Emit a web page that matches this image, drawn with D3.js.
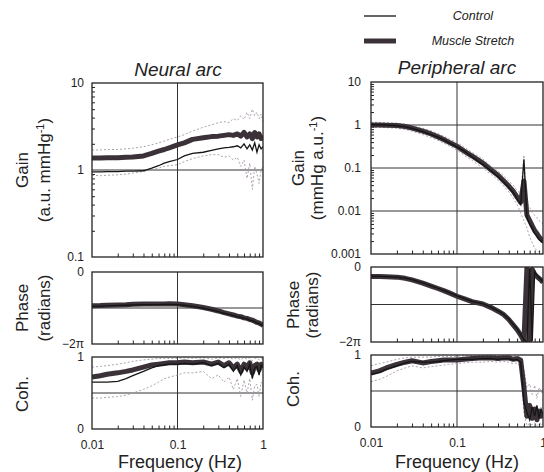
<!DOCTYPE html>
<html>
<head>
<meta charset="utf-8">
<title>Neural and peripheral arc transfer functions</title>
<script src="https://d3js.org/d3.v7.min.js"></script>
<style>
  body { margin: 0; background: #fff; }
  text { font-family: "Liberation Sans", Arial, sans-serif; fill: #222; }
  .frame { fill: none; stroke: #222; stroke-width: 1.3px; }
  .grid { stroke: #333; stroke-width: 1px; }
  .stretch { fill: none; stroke: #3a3238; stroke-width: 5px; stroke-linejoin: round; }
  .control { fill: none; stroke: #151515; stroke-width: 1.3px; }
  .sd { fill: none; stroke: #a596a6; stroke-width: 0.9px; stroke-dasharray: 2,2; }
  .minor line { stroke: #222; stroke-width: 1px; }
  .ticklab text { font-size: 12px; }
  .title { font-size: 19px; font-style: italic; }
  .ylab { font-size: 17px; }
  .xlab { font-size: 18px; }
  .legend { font-size: 12.5px; font-style: italic; }
</style>
</head>
<body>
<script>
// frequency grid (Hz)
var freq = [0.01, 0.0125, 0.015, 0.02, 0.025, 0.03, 0.04, 0.05, 0.06, 0.07, 0.08, 0.1, 0.12, 0.15, 0.2, 0.25,
            0.3, 0.35, 0.4, 0.45, 0.5, 0.55, 0.6, 0.65, 0.7, 0.75, 0.8, 0.85, 0.9, 0.95, 1.0];

// Neural arc - gain (a.u. mmHg^-1)
var neuralGainStretch = [1.37,1.37,1.38,1.38,1.40,1.41,1.45,1.55,1.65,1.72,1.80,1.94,2.05,2.25,2.35,2.42,
                         2.45,2.5,2.55,2.5,2.6,2.45,2.7,2.4,2.6,2.3,2.7,2.4,2.6,2.3,2.5];
var neuralGainControl = [0.95,0.95,0.96,0.96,0.97,0.97,0.98,1.05,1.12,1.2,1.25,1.32,1.45,1.55,1.6,1.68,
                         1.75,1.8,1.82,1.85,1.9,1.8,2.0,1.75,1.95,1.7,2.05,1.6,1.95,1.75,1.85];
var neuralGainSdHi = [1.7,1.7,1.72,1.72,1.75,1.78,1.85,1.95,2.05,2.15,2.25,2.4,2.55,2.8,3.1,3.3,
                      3.5,3.6,3.5,3.9,3.7,4.2,3.8,4.6,3.9,5.0,4.2,4.6,3.9,4.4,3.6];
var neuralGainSdLo = [0.87,0.86,0.87,0.88,0.9,0.92,0.96,1.0,1.05,1.1,1.12,1.15,1.25,1.35,1.45,1.5,
                      1.5,1.4,1.45,1.3,1.4,1.1,1.3,0.8,1.2,0.6,1.1,0.9,0.7,1.0,1.1];

// Neural arc - phase (radians)
var neuralPhaseStretch = [-2.95,-2.93,-2.9,-2.87,-2.85,-2.82,-2.8,-2.8,-2.8,-2.8,-2.78,-2.8,-2.85,-2.95,-3.1,-3.25,
                          -3.4,-3.55,-3.65,-3.75,-3.85,-3.9,-4.0,-4.05,-4.15,-4.2,-4.3,-4.4,-4.45,-4.55,-4.65];
var neuralPhaseControl = [-3.0,-2.98,-2.95,-2.92,-2.9,-2.88,-2.86,-2.85,-2.84,-2.83,-2.83,-2.85,-2.9,-3.0,-3.15,-3.3,
                          -3.45,-3.6,-3.7,-3.8,-3.9,-3.95,-4.05,-4.1,-4.2,-4.25,-4.35,-4.45,-4.5,-4.6,-4.7];

// Neural arc - coherence
var neuralCohStretch = [0.72,0.74,0.76,0.78,0.8,0.82,0.86,0.89,0.9,0.91,0.92,0.92,0.93,0.92,0.93,0.9,
                        0.93,0.88,0.92,0.85,0.9,0.8,0.9,0.85,0.92,0.78,0.88,0.9,0.82,0.9,0.88];
var neuralCohControl = [0.65,0.65,0.65,0.66,0.7,0.74,0.8,0.85,0.88,0.89,0.9,0.9,0.91,0.9,0.92,0.88,
                        0.91,0.85,0.9,0.8,0.88,0.75,0.86,0.8,0.9,0.7,0.85,0.87,0.75,0.88,0.85];
var neuralCohSdHi = [0.86,0.87,0.88,0.9,0.92,0.94,0.96,0.97,0.98,0.98,0.98,0.98,0.99,0.98,0.99,0.97,
                     0.99,0.98,0.99,0.97,0.99,0.96,0.99,0.97,0.99,0.95,0.98,0.99,0.96,0.98,0.97];
var neuralCohSdLo = [0.43,0.43,0.44,0.45,0.47,0.5,0.55,0.6,0.65,0.7,0.72,0.75,0.78,0.78,0.8,0.7,
                     0.75,0.65,0.72,0.55,0.7,0.45,0.68,0.5,0.7,0.4,0.6,0.62,0.45,0.65,0.6];

// Peripheral arc - gain (mmHg a.u.^-1)
var periphGainStretch = [1.0,1.0,0.99,0.97,0.92,0.85,0.72,0.62,0.53,0.46,0.4,0.32,0.25,0.19,0.13,0.09,
                         0.068,0.05,0.038,0.029,0.021,0.016,0.05,0.008,0.006,0.0045,0.0035,0.003,0.0025,0.0022,0.002];
var periphGainControl = [1.02,1.01,1.0,0.96,0.9,0.83,0.7,0.6,0.52,0.45,0.39,0.31,0.25,0.18,0.12,0.085,
                         0.063,0.047,0.035,0.027,0.019,0.014,0.16,0.007,0.005,0.004,0.003,0.0026,0.0022,0.002,0.0018];
var periphGainSdHi = [1.15,1.15,1.13,1.1,1.05,0.98,0.84,0.73,0.63,0.55,0.48,0.39,0.31,0.23,0.16,0.11,
                      0.085,0.065,0.05,0.04,0.03,0.025,0.2,0.015,0.012,0.009,0.008,0.007,0.006,0.0055,0.005];
var periphGainSdLo = [0.88,0.88,0.87,0.84,0.79,0.72,0.6,0.51,0.44,0.38,0.33,0.26,0.2,0.15,0.1,0.07,
                      0.052,0.038,0.028,0.02,0.014,0.009,0.006,0.004,0.0025,0.0018,0.0014,0.0012,0.0011,0.001,0.001];

// Peripheral arc - phase (radians), wraps at -2pi
var periphPhaseStretch = [-0.8,-0.8,-0.81,-0.85,-0.95,-1.08,-1.35,-1.6,-1.8,-1.98,-2.15,-2.45,-2.65,-2.9,-3.1,-3.4,
                          -3.7,-4.0,-4.4,-4.85,-5.25,-5.7,-6.2,-0.05,-6.25,-0.2,-0.6,-0.8,-0.95,-1.1,-1.3];
var periphPhaseControl = [-0.78,-0.79,-0.8,-0.84,-0.93,-1.05,-1.32,-1.58,-1.78,-1.96,-2.12,-2.42,-2.62,-2.88,-3.08,-3.38,
                          -3.68,-3.98,-4.35,-4.8,-5.2,-5.65,-6.1,-6.28,-0.1,-6.2,-0.4,-0.7,-0.9,-1.05,-1.25];

// Peripheral arc - coherence
var periphCohStretch = [0.75,0.78,0.82,0.87,0.9,0.92,0.89,0.91,0.92,0.93,0.93,0.93,0.94,0.95,0.96,0.96,
                        0.95,0.96,0.96,0.94,0.95,0.93,0.55,0.15,0.3,0.12,0.25,0.1,0.22,0.15,0.2];
var periphCohControl = [0.73,0.76,0.8,0.85,0.89,0.91,0.9,0.9,0.91,0.92,0.93,0.94,0.94,0.94,0.95,0.95,
                        0.94,0.95,0.95,0.93,0.94,0.9,0.35,0.2,0.1,0.28,0.15,0.3,0.12,0.25,0.18];
var periphCohSdHi = [0.85,0.88,0.9,0.94,0.96,0.97,0.97,0.97,0.98,0.98,0.98,0.98,0.99,0.99,0.99,0.99,
                     0.99,0.99,0.99,0.98,0.98,0.97,0.8,0.55,0.6,0.45,0.58,0.4,0.55,0.5,0.45];
var periphCohSdLo = [0.63,0.66,0.7,0.78,0.82,0.85,0.82,0.84,0.85,0.86,0.87,0.88,0.89,0.9,0.9,0.91,
                     0.9,0.91,0.9,0.88,0.89,0.84,0.2,0.02,0.05,0.03,0.06,0.02,0.05,0.04,0.03];

// tick labels
var freqTicks = [0.01, 0.1, 1];
var freqTickText = ["0.01", "0.1", "1"];
var neuralGainTicks = [0.1, 1, 10];
var neuralGainTickText = ["0.1", "1", "10"];
var periphGainTicks = [0.001, 0.01, 0.1, 1, 10];
var periphGainTickText = ["0.001", "0.01", "0.1", "1", "10"];
var phaseTicks = [-2 * Math.PI, 0];
var phaseTickText = ["\u22122\u03c0", "0"];
var cohTicks = [0, 1];
var cohTickText = ["0", "1"];

var width = 544, height = 472;
var svg = d3.select("body").append("svg")
    .attr("width", width)
    .attr("height", height);

var clipId = 0;

function drawPanel(p) {
    var x = d3.scaleLog().domain([0.01, 1]).range([p.x0, p.x1]);
    var y = (p.log ? d3.scaleLog() : d3.scaleLinear()).domain(p.domain).range([p.bottom, p.top]);
    var g = svg.append("g");

    clipId++;
    g.append("clipPath").attr("id", "clip" + clipId)
        .append("rect")
        .attr("x", p.x0).attr("y", p.top)
        .attr("width", p.x1 - p.x0).attr("height", p.bottom - p.top);

    // grid lines
    g.append("line").attr("class", "grid")
        .attr("x1", x(0.1)).attr("x2", x(0.1))
        .attr("y1", p.top).attr("y2", p.bottom);
    p.grid.forEach(function (v) {
        g.append("line").attr("class", "grid")
            .attr("x1", p.x0).attr("x2", p.x1)
            .attr("y1", y(v)).attr("y2", y(v));
    });

    // minor ticks on the frequency axis (inside)
    var minorX = x.ticks().filter(function (d) { return Math.abs(Math.log10(d) % 1) > 1e-6; });
    g.append("g").attr("class", "minor")
        .attr("transform", "translate(0," + p.bottom + ")")
        .call(d3.axisBottom(x).tickValues(minorX).tickSizeInner(-3.5).tickSizeOuter(0).tickFormat(""))
        .call(function (a) { a.select(".domain").remove(); });

    if (p.log) {
        var minorY = y.ticks().filter(function (d) { return Math.abs(Math.log10(d) % 1) > 1e-6; });
        g.append("g").attr("class", "minor")
            .attr("transform", "translate(" + p.x0 + ",0)")
            .call(d3.axisLeft(y).tickValues(minorY).tickSizeInner(-3).tickSizeOuter(0).tickFormat(""))
            .call(function (a) { a.select(".domain").remove(); });
    }

    var line = d3.line()
        .x(function (d) { return x(d[0]); })
        .y(function (d) { return y(d[1]); });

    var data = g.append("g").attr("clip-path", "url(#clip" + clipId + ")");
    (p.sd || []).forEach(function (s) {
        data.append("path").datum(d3.zip(freq, s)).attr("class", "sd").attr("d", line);
    });
    data.append("path").datum(d3.zip(freq, p.stretch)).attr("class", "stretch").attr("d", line);
    data.append("path").datum(d3.zip(freq, p.control)).attr("class", "control").attr("d", line);

    // frame
    g.append("rect").attr("class", "frame")
        .attr("x", p.x0).attr("y", p.top)
        .attr("width", p.x1 - p.x0).attr("height", p.bottom - p.top);

    // y tick labels
    g.append("g").attr("class", "ticklab")
        .attr("transform", "translate(" + p.x0 + ",0)")
        .call(d3.axisLeft(y).tickValues(p.ticks).tickSize(0).tickPadding(p.pad)
            .tickFormat(function (d, i) { return p.tickText[i]; }))
        .call(function (a) { a.select(".domain").remove(); });

    // x tick labels
    if (p.xlabels) {
        g.append("g").attr("class", "ticklab")
            .attr("transform", "translate(0," + p.bottom + ")")
            .call(d3.axisBottom(x).tickValues(freqTicks).tickSize(0).tickPadding(11)
                .tickFormat(function (d, i) { return freqTickText[i]; }))
            .call(function (a) { a.select(".domain").remove(); });
    }
}

function yLabel(cy, lines) {
    lines.forEach(function (l) {
        var t = svg.append("text").attr("class", "ylab")
            .attr("text-anchor", "middle")
            .attr("transform", "translate(" + l.x + "," + cy + ") rotate(-90)");
        t.append("tspan").text(l.text);
        if (l.sup) {
            t.append("tspan").attr("baseline-shift", "super").style("font-size", "11px").text(l.sup);
            t.append("tspan").text(")");
        }
    });
}

var L = { x0: 92, x1: 263 }, R = { x0: 371, x1: 543 };

// Neural arc
drawPanel({ x0: L.x0, x1: L.x1, top: 83, bottom: 257, log: true, domain: [0.1, 10], grid: [1],
    stretch: neuralGainStretch, control: neuralGainControl, sd: [neuralGainSdHi, neuralGainSdLo],
    ticks: neuralGainTicks, tickText: neuralGainTickText, pad: 8 });
drawPanel({ x0: L.x0, x1: L.x1, top: 272, bottom: 344, log: false, domain: [-2 * Math.PI, 0], grid: [-Math.PI],
    stretch: neuralPhaseStretch, control: neuralPhaseControl,
    ticks: phaseTicks, tickText: phaseTickText, pad: 8 });
drawPanel({ x0: L.x0, x1: L.x1, top: 357, bottom: 429, log: false, domain: [0, 1], grid: [0.5],
    stretch: neuralCohStretch, control: neuralCohControl, sd: [neuralCohSdHi, neuralCohSdLo],
    ticks: cohTicks, tickText: cohTickText, pad: 8, xlabels: true });

// Peripheral arc
drawPanel({ x0: R.x0, x1: R.x1, top: 82, bottom: 254, log: true, domain: [0.001, 10], grid: [1, 0.1, 0.01],
    stretch: periphGainStretch, control: periphGainControl, sd: [periphGainSdHi, periphGainSdLo],
    ticks: periphGainTicks, tickText: periphGainTickText, pad: 10 });
drawPanel({ x0: R.x0, x1: R.x1, top: 267, bottom: 342, log: false, domain: [-2 * Math.PI, 0], grid: [-Math.PI],
    stretch: periphPhaseStretch, control: periphPhaseControl,
    ticks: phaseTicks, tickText: phaseTickText, pad: 10 });
drawPanel({ x0: R.x0, x1: R.x1, top: 355, bottom: 427, log: false, domain: [0, 1], grid: [0.5],
    stretch: periphCohStretch, control: periphCohControl, sd: [periphCohSdHi, periphCohSdLo],
    ticks: cohTicks, tickText: cohTickText, pad: 10, xlabels: true });

// titles
svg.append("text").attr("class", "title").attr("text-anchor", "middle")
    .attr("x", 178).attr("y", 76).text("Neural arc");
svg.append("text").attr("class", "title").attr("text-anchor", "middle")
    .attr("x", 457).attr("y", 74).text("Peripheral arc");

// y axis titles
yLabel(170, [{ x: 28, text: "Gain" }, { x: 50, text: "(a.u. mmHg", sup: "-1" }]);
yLabel(308, [{ x: 28, text: "Phase" }, { x: 50, text: "(radians)" }]);
yLabel(394, [{ x: 28, text: "Coh." }]);
yLabel(168, [{ x: 304, text: "Gain" }, { x: 323, text: "(mmHg a.u.", sup: "-1" }]);
yLabel(305, [{ x: 299, text: "Phase" }, { x: 318, text: "(radians)" }]);
yLabel(389, [{ x: 299, text: "Coh." }]);

// x axis titles
svg.append("text").attr("class", "xlab").attr("text-anchor", "middle")
    .attr("x", 180).attr("y", 468).text("Frequency (Hz)");
svg.append("text").attr("class", "xlab").attr("text-anchor", "middle")
    .attr("x", 457).attr("y", 468).text("Frequency (Hz)");

// legend
svg.append("line").attr("class", "control").attr("x1", 364).attr("x2", 396).attr("y1", 16).attr("y2", 16);
svg.append("line").attr("class", "stretch").attr("x1", 364).attr("x2", 396).attr("y1", 41).attr("y2", 41);
svg.append("text").attr("class", "legend").attr("text-anchor", "middle")
    .attr("x", 473).attr("y", 20).text("Control");
svg.append("text").attr("class", "legend").attr("text-anchor", "middle")
    .attr("x", 473).attr("y", 45).text("Muscle Stretch");
</script>
</body>
</html>
